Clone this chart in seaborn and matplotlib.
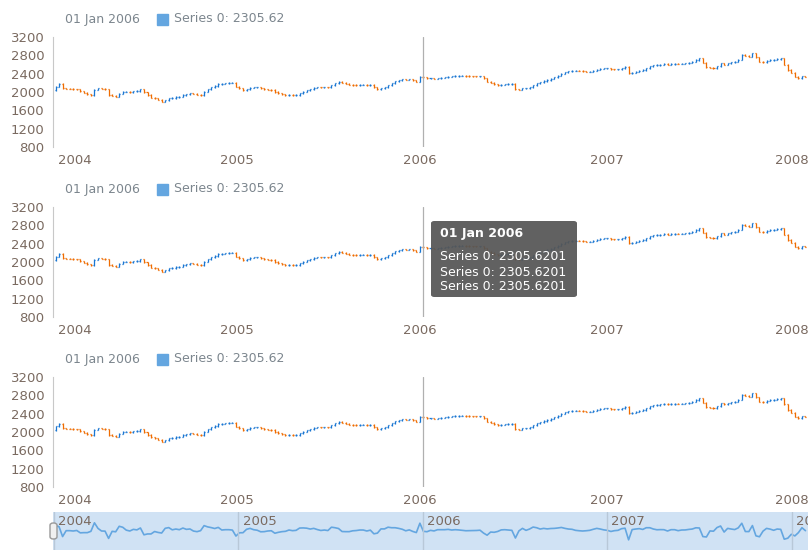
import numpy as np
import pandas as pd
import matplotlib
matplotlib.use("Agg")
import matplotlib.pyplot as plt
import matplotlib.dates as mdates
from matplotlib.patches import FancyBboxPatch, Rectangle
import seaborn as sns

sns.set_style("white")
plt.rcParams['font.family'] = ['DejaVu Sans']

closes = [
2044,2120,2175,2080,2075,2070,2060,2058,2020,1985,
1950,1935,2050,2080,2070,2058,1935,1920,1898,1960,
2007,2010,2000,2015,2022,2058,1990,1935,1880,1862,
1830,1789,1820,1862,1870,1890,1900,1935,1950,1971,
1960,1940,1935,2007,2060,2102,2130,2175,2180,2190,
2200,2204,2117,2080,2044,2060,2090,2100,2102,2080,
2060,2050,2044,2000,1970,1950,1935,1940,1935,1935,
1970,2007,2040,2060,2090,2102,2100,2105,2102,2150,
2190,2218,2200,2180,2160,2153,2150,2155,2160,2150,
2153,2100,2058,2080,2102,2150,2190,2230,2260,2277,
2270,2277,2260,2226,2335,2320,2299,2299,2290,2300,
2310,2320,2335,2340,2350,2356,2356,2350,2345,2342,
2340,2342,2300,2226,2200,2170,2153,2160,2170,2175,
2175,2058,2050,2080,2080,2100,2150,2190,2210,2240,
2262,2290,2320,2356,2400,2430,2450,2466,2466,2460,
2450,2444,2444,2460,2490,2510,2517,2517,2500,2495,
2495,2520,2553,2408,2420,2440,2466,2480,2520,2560,
2580,2589,2600,2610,2600,2610,2620,2615,2620,2626,
2640,2660,2699,2735,2640,2539,2530,2517,2560,2626,
2600,2630,2650,2662,2700,2808,2790,2771,2844,2760,
2662,2650,2680,2699,2700,2720,2735,2600,2480,2420,
2335,2300,2340,2335]
dates = pd.date_range("2003-12-29", periods=len(closes), freq="7D")
opens = [closes[0] - 30] + closes[:-1]
year_labels = ["2004", "2005", "2006", "2007", "2008"]
yticks = [800, 1200, 1600, 2000, 2400, 2800, 3200]

df = pd.DataFrame({"date": dates, "open": opens, "close": closes})
df["high"] = df[["open", "close"]].max(axis=1) + 12
df["low"] = df[["open", "close"]].min(axis=1) - 12
up = df["close"] >= df["open"]

BLUE, ORANGE, GRAY = "#1976d2", "#ef6c00", "#7c868e"
LAB = "#7a6a60"
W, H = 808, 554
fig = plt.figure(figsize=(W/100, H/100), dpi=100)
xmin, xmax = pd.Timestamp("2003-12-31"), pd.Timestamp("2008-02-02")
cross = pd.Timestamp("2006-01-01")

def ax_at(x0, y0, x1, y1):
    return fig.add_axes([x0/W, 1-y1/H, (x1-x0)/W, (y1-y0)/H])

half = pd.Timedelta(days=2.0)
for top in [37, 207, 377]:
    ax = ax_at(53, top, 808, top+110)
    for sel, col in [(up, BLUE), (~up, ORANGE)]:
        d = df[sel]
        ax.vlines(d["date"], d["low"], d["high"], color=col, lw=0.9)
        ax.hlines(d["open"], d["date"]-half, d["date"], color=col, lw=0.9)
        ax.hlines(d["close"], d["date"], d["date"]+half, color=col, lw=0.9)
    ax.set_xlim(xmin, xmax)
    ax.set_ylim(800, 3200)
    ax.set_yticks(yticks)
    ax.tick_params(axis='y', colors="#c8c8c8", labelsize=9.5, length=4, pad=2, width=0.8)
    ax.tick_params(axis='y', labelcolor=LAB)
    ax.set_xticks([])
    for s in ["top", "right", "bottom"]:
        ax.spines[s].set_visible(False)
    ax.spines["left"].set_color("#c8c8c8")
    ax.axvline(cross, color="#b0b0b0", lw=0.9)
    for i, lab in enumerate(year_labels):
        px = 75 if i == 0 else [53, 237, 420, 607, 792][i]
        fig.text(px/W, 1-(top+123)/H, lab, ha="center", va="center",
                 color=LAB, fontsize=9.5)
    fig.text(65/W, 1-(top-18)/H, "01 Jan 2006", color=GRAY, fontsize=9, va="center")
    fig.patches.append(Rectangle((157/W, 1-(top-12)/H), 11/W, 11/H,
                                 transform=fig.transFigure, color="#64a6e0"))
    fig.text(174/W, 1-(top-18)/H, "Series 0: 2305.62", color=GRAY, fontsize=9, va="center")

# tooltip
tip = FancyBboxPatch((431/W, 1-297/H), 146/W, 76/H, boxstyle="round,pad=0,rounding_size=0.004",
                     transform=fig.transFigure, facecolor="#555555", edgecolor="none", alpha=0.93)
fig.patches.append(tip)
fig.text(440/W, 1-233/H, "01 Jan 2006", color="white", fontsize=9, fontweight="bold", va="center")
for k in range(3):
    fig.text(440/W, 1-(257+k*15)/H, "Series 0: 2305.6201", color="white", fontsize=9, va="center")

# scroller
sax = ax_at(53, 512, 808, 550)
sax.set_facecolor("#d0e2f4")
sns.lineplot(x=df["date"], y=df["close"] - df["open"], ax=sax, color="#64a6e0", lw=1.2)
sax.set_xlim(xmin, xmax)
sax.set_ylim(-300, 280)
sax.set_xticks([]); sax.set_yticks([])
sax.set_xlabel(""); sax.set_ylabel("")
for s in sax.spines.values():
    s.set_visible(False)
for i, lab in enumerate(year_labels):
    d = pd.Timestamp(f"{lab}-01-01")
    sax.axvline(d, color="#b8c8d8", lw=1)
    t = sax.text(d + pd.Timedelta(days=8), 0.75, lab, transform=sax.get_xaxis_transform(),
                 color=LAB, fontsize=9.5, va="center", clip_on=True)
fig.patches.append(FancyBboxPatch((50/W, 1-539/H), 7/W, 16/H, boxstyle="round,pad=0,rounding_size=0.004",
                   transform=fig.transFigure, facecolor="#f0f0f0", edgecolor="#999999", lw=1))

fig.savefig("out.png", dpi=100)
